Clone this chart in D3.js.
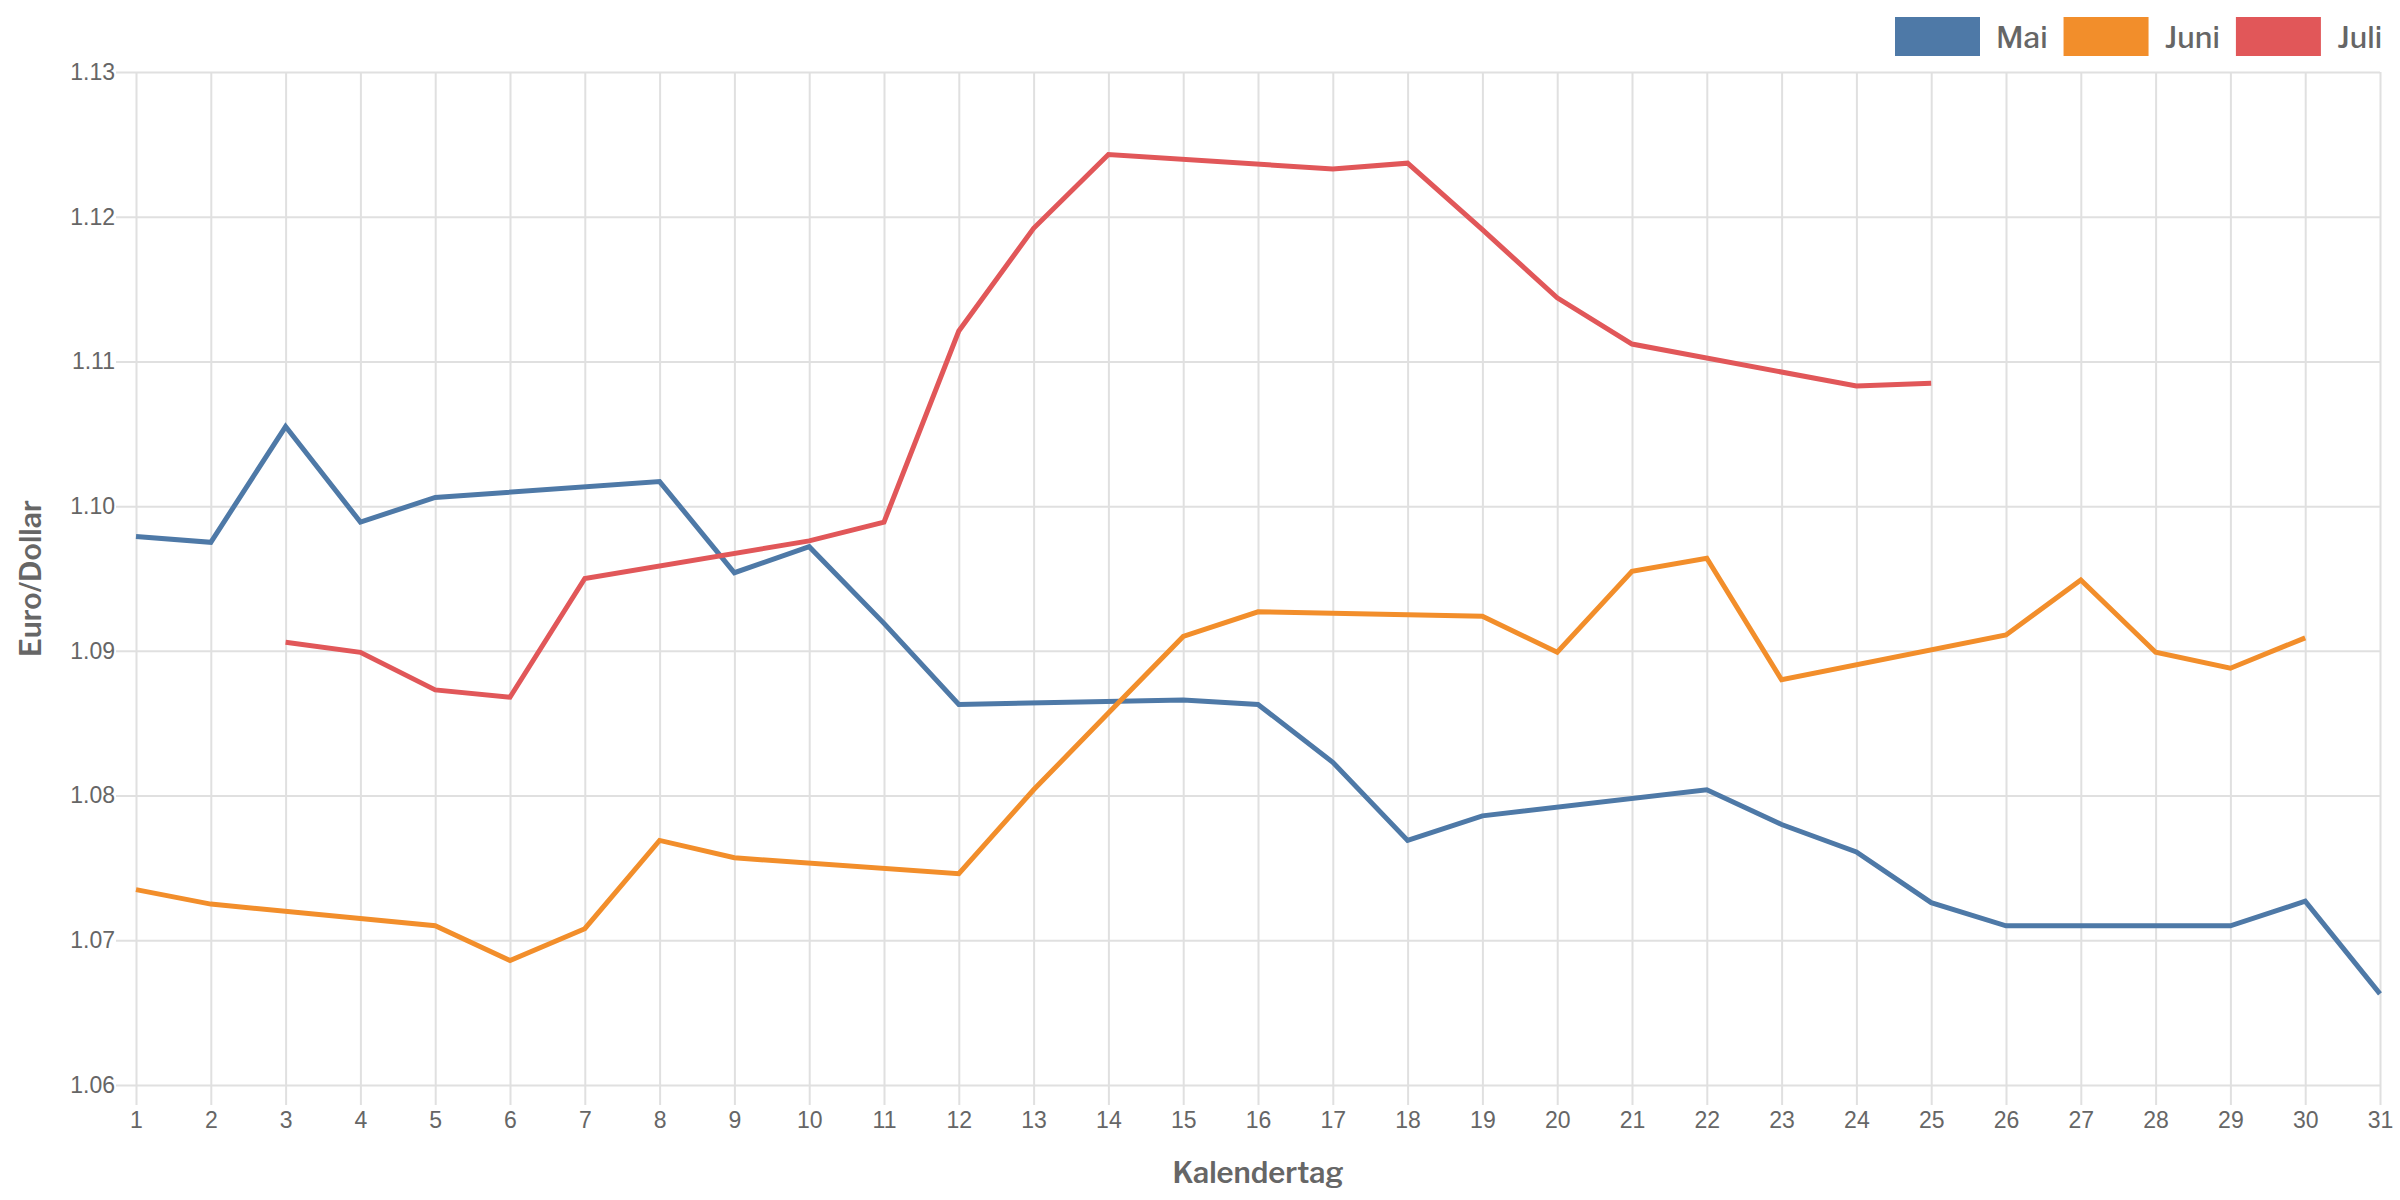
<!DOCTYPE html>
<html>
<head>
<meta charset="utf-8">
<script src="https://cdn.jsdelivr.net/npm/d3@7"></script>
<style>
	body { margin: 0; background: #fff; }
	svg { font-family: "Libre Franklin", Roboto, sans-serif; }
	.tick text { fill: #666; font-size: 23px; }
	.tick line { stroke: #e0e0e0; stroke-width: 2px; }
</style>
</head>
<body>
<svg id="chart" width="2400" height="1200"></svg>
<script>
// Kalendertage 1..31, Kurse EUR/USD (null = kein Handelstag)
var days = d3.range(1, 32);

var mai = [1.0979, 1.0975, 1.1055, 1.0989, 1.1006, null, null, 1.1017, 1.0954, 1.0972,
	1.0919, 1.0863, null, null, 1.0866, 1.0863, 1.0823, 1.0769, 1.0786, null,
	null, 1.0804, 1.0780, 1.0761, 1.0726, 1.0710, null, null, 1.0710, 1.0727,
	1.0663];

var juni = [1.0735, 1.0725, null, null, 1.0710, 1.0686, 1.0708, 1.0769, 1.0757, null,
	null, 1.0746, 1.0804, 1.0857, 1.0910, 1.0927, null, null, 1.0924, 1.0899,
	1.0955, 1.0964, 1.0880, null, null, 1.0911, 1.0949, 1.0899, 1.0888, 1.0909];

var juli = [null, null, 1.0906, 1.0899, 1.0873, 1.0868, 1.0950, null, null, 1.0976,
	1.0989, 1.1121, 1.1192, 1.1243, null, null, 1.1233, 1.1237, 1.1191, 1.1144,
	1.1112, null, null, 1.1083, 1.1085];

var seriesNames = ["Mai", "Juni", "Juli"];
var seriesColors = ["#4e79a7", "#f28e2b", "#e15759"];
var yTicks = [1.06, 1.07, 1.08, 1.09, 1.10, 1.11, 1.12, 1.13];

var margin = {top: 72, right: 20, bottom: 115, left: 136},
	width = 2400 - margin.left - margin.right,
	height = 1200 - margin.top - margin.bottom;

var svg = d3.select("#chart");
var g = svg.append("g")
	.attr("transform", "translate(" + margin.left + "," + margin.top + ")");

var x = d3.scaleLinear()
	.domain([1, 31])
	.range([0, width]);

var y = d3.scaleLinear()
	.domain([1.06, 1.13])
	.range([height, 0]);

// y axis + horizontal grid
var yAxis = g.append("g")
	.call(d3.axisLeft(y).tickValues(yTicks).tickSize(20).tickPadding(1).tickFormat(d3.format(".2f")));
yAxis.select(".domain").remove();
yAxis.selectAll(".tick line").attr("x1", width);

// x axis + vertical grid
var xAxis = g.append("g")
	.attr("transform", "translate(0," + height + ")")
	.call(d3.axisBottom(x).tickValues(days).tickSize(20).tickPadding(7).tickFormat(d3.format("d")));
xAxis.select(".domain").remove();
xAxis.selectAll(".tick line").attr("y1", -height);

var line = d3.line()
	.x(function(d) { return x(d.day); })
	.y(function(d) { return y(d.value); });

[mai, juni, juli].forEach(function(values, i) {
	var pts = [];
	for (var k = 0; k < values.length; k++) {
		if (values[k] != null) pts.push({day: days[k], value: values[k]});
	}
	g.append("path")
		.datum(pts)
		.attr("fill", "none")
		.attr("stroke", seriesColors[i])
		.attr("stroke-width", 5)
		.attr("stroke-linejoin", "miter")
		.attr("d", line);
});

// axis titles
svg.append("text")
	.attr("x", margin.left + width / 2)
	.attr("y", 1183)
	.attr("text-anchor", "middle")
	.style("font-size", "29px")
	.style("font-weight", "600")
	.style("fill", "#666")
	.text("Kalendertag");

svg.append("text")
	.attr("transform", "translate(41," + (margin.top + height / 2) + ") rotate(-90)")
	.attr("text-anchor", "middle")
	.style("font-size", "29px")
	.style("font-weight", "600")
	.style("fill", "#666")
	.text("Euro/Dollar");

// legend
var legend = svg.append("g");
var lx = 1895;
seriesNames.forEach(function(name, i) {
	legend.append("rect")
		.attr("x", lx).attr("y", 17)
		.attr("width", 85).attr("height", 39)
		.attr("fill", seriesColors[i]);
	var t = legend.append("text")
		.attr("x", lx + 85 + 16)
		.attr("y", 48)
		.style("font-size", "30px")
		.style("font-weight", "500")
		.style("fill", "#666")
		.text(name);
	lx += 85 + 16 + t.node().getComputedTextLength() + 16;
});
</script>
</body>
</html>
